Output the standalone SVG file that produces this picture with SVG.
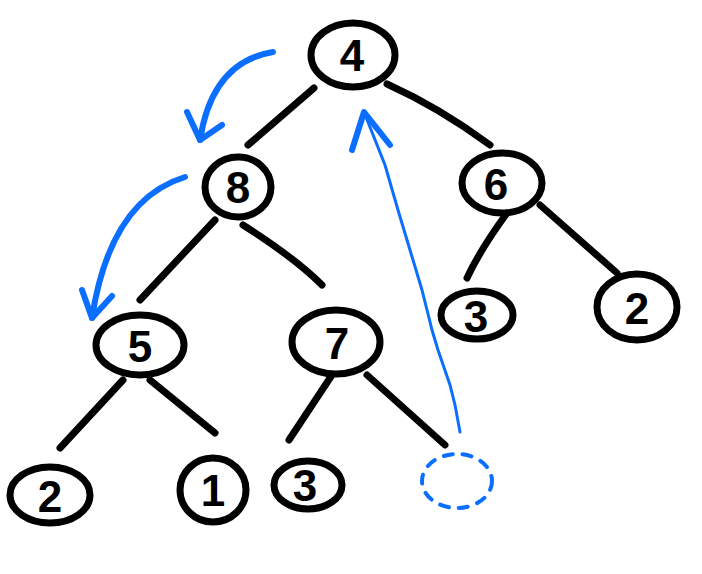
<svg xmlns="http://www.w3.org/2000/svg" width="702" height="574" viewBox="0 0 702 574">
<style>
.n ellipse{fill:none;stroke:#000;stroke-width:7}
.n text{font-family:"Liberation Sans",Arial,sans-serif;font-size:44px;text-anchor:middle;fill:#000;font-weight:bold}
.e path{fill:none;stroke:#000;stroke-width:7;stroke-linecap:round}
.b path{fill:none;stroke:#0a6fff;stroke-width:6;stroke-linecap:round;stroke-linejoin:round}
.b path.thin{stroke-width:3}
</style>
<rect width="702" height="574" fill="#fff"/>
<g class="e" id="connectors">
<path d="M314 88 L248 145"/>
<path d="M387 84 Q440 108 490 145"/>
<path d="M215 220 L140 300"/>
<path d="M243 225 Q295 258 322 285"/>
<path d="M507 213 Q480 250 467 278"/>
<path d="M540 205 L617 273"/>
<path d="M123 380 L60 448"/>
<path d="M150 380 L215 433"/>
<path d="M332 375 L289 440"/>
<path d="M367 375 L445 445"/>
</g>
<g class="b" id="arrows">
<path d="M273 52 Q212 62 200 140"/>
<path d="M187 112 L200 140 L222 125"/>
<path d="M185 177 Q110 200 92 318"/>
<path d="M82 290 L92 318 L112 296"/>
<path class="thin" d="M460 432 L455 405 L450 385 L438 350 L432 330 L422 290 L410 250 L398 210 L385 165 L364 112"/>
<path d="M352 150 L364 112 L390 145"/>
</g>
<g class="n" id="n4"><ellipse cx="353" cy="55" rx="42" ry="32"/><text x="352" y="71">4</text></g>
<g class="n" id="n8"><ellipse cx="238" cy="187" rx="33" ry="30"/><text x="238" y="203">8</text></g>
<g class="n" id="n6"><ellipse cx="502" cy="183" rx="40" ry="30"/><text x="496" y="200">6</text></g>
<g class="n" id="n5"><ellipse cx="140" cy="345" rx="44" ry="30"/><text x="140" y="362">5</text></g>
<g class="n" id="n7"><ellipse cx="336" cy="342" rx="44" ry="32"/><text x="337" y="359">7</text></g>
<g class="n" id="n3a"><ellipse cx="477" cy="315" rx="36" ry="24"/><text x="476" y="332">3</text></g>
<g class="n" id="n2a"><ellipse cx="637" cy="307" rx="40" ry="33"/><text x="637" y="324">2</text></g>
<g class="n" id="n2b"><ellipse cx="50" cy="495" rx="40" ry="28"/><text x="50" y="512">2</text></g>
<g class="n" id="n1"><ellipse cx="213" cy="490" rx="33" ry="32"/><text x="213" y="506">1</text></g>
<g class="n" id="n3b"><ellipse cx="308" cy="485" rx="34" ry="24"/><text x="305" y="501">3</text></g>
<g id="empty"><ellipse cx="457" cy="481" rx="35" ry="27" fill="none" stroke="#0a6fff" stroke-width="4" stroke-dasharray="9 10" stroke-linecap="round"/></g>
</svg>
